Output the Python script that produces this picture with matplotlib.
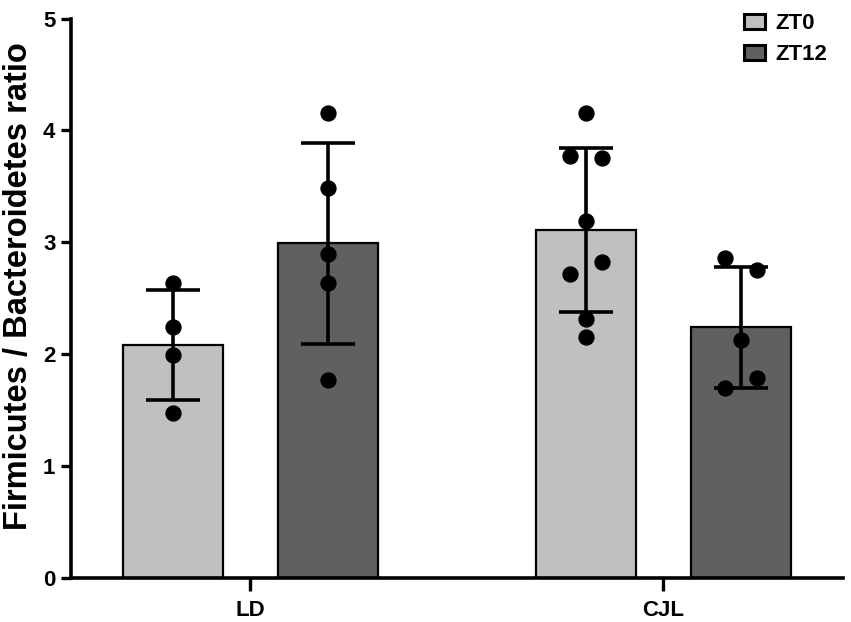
import matplotlib
matplotlib.use("Agg")
import matplotlib.pyplot as plt
import numpy as np
from matplotlib.patches import Patch

plt.rcParams['font.family'] = ['Liberation Sans', 'DejaVu Sans']
plt.rcParams['font.weight'] = 'bold'

groups = ["LD", "CJL"]
series = ["ZT0", "ZT12"]
colors = ["#c0c0c0", "#606060"]

# bar heights (mean) and SD per group, per series
means = {"ZT0": [2.08, 3.11], "ZT12": [2.99, 2.24]}
sds = {"ZT0": [0.49, 0.73], "ZT12": [0.90, 0.54]}

# individual points
points_ld_zt0 = [2.64, 2.24, 1.99, 1.47]
points_ld_zt12 = [4.16, 3.49, 2.90, 2.64, 1.77]
points_cjl_zt0 = [4.16, 3.77, 3.75, 3.19, 2.72, 2.82, 2.31, 2.15]
points_cjl_zt12 = [2.86, 2.75, 2.13, 1.79, 1.70]

# horizontal jitter of points (in bar widths)
jit_ld_zt0 = [0, 0, 0, 0]
jit_ld_zt12 = [0, 0, 0, 0, 0]
jit_cjl_zt0 = [0, -0.16, 0.16, 0, -0.16, 0.16, 0, 0]
jit_cjl_zt12 = [-0.16, 0.16, 0, 0.16, -0.16]

bar_x = {"ZT0": [0.0, 4.13], "ZT12": [1.555, 5.68]}
group_x = [0.777, 4.9]
width = 1.0

fig = plt.figure(figsize=(8.51, 6.22), dpi=100)
ax = fig.add_axes([0.083, 0.071, 0.908, 0.899])

for s, c in zip(series, colors):
    ax.bar(bar_x[s], means[s], width=width, color=c, edgecolor='black',
           linewidth=1.6, zorder=1)
    ax.errorbar(bar_x[s], means[s], yerr=sds[s], fmt='none', ecolor='black',
                elinewidth=2.6, capsize=19.5, capthick=2.6, zorder=3)

all_pts = [(bar_x["ZT0"][0], points_ld_zt0, jit_ld_zt0),
           (bar_x["ZT12"][0], points_ld_zt12, jit_ld_zt12),
           (bar_x["ZT0"][1], points_cjl_zt0, jit_cjl_zt0),
           (bar_x["ZT12"][1], points_cjl_zt12, jit_cjl_zt12)]
for xc, pts, jit in all_pts:
    ax.scatter(xc + np.array(jit), pts, s=115, color='black', zorder=4)

ax.set_xlim(-1.02, 6.70)
ax.set_ylim(0, 5)
ax.set_yticks([0, 1, 2, 3, 4, 5])
ax.set_xticks(group_x)
ax.set_xticklabels(groups)
ax.tick_params(axis='both', labelsize=16, width=2.4, length=7)
ax.tick_params(axis='y', pad=4)
ax.tick_params(axis='x', length=9, pad=7)
for lbl in ax.get_xticklabels() + ax.get_yticklabels():
    lbl.set_fontweight('bold')
ax.set_ylabel("Firmicutes / Bacteroidetes ratio", fontsize=23.5,
              fontweight='bold')
ax.yaxis.set_label_coords(-0.048, 0.522)

for side in ['top', 'right']:
    ax.spines[side].set_visible(False)
for side in ['left', 'bottom']:
    ax.spines[side].set_linewidth(2.6)

handles = [Patch(facecolor=c, edgecolor='black', linewidth=2.2, label=s)
           for s, c in zip(series, colors)]
leg = ax.legend(handles=handles, loc='upper right', bbox_to_anchor=(1.005, 1.045),
                frameon=False, fontsize=16, handlelength=0.95, handleheight=0.7,
                handletextpad=0.45, labelspacing=0.45)
for t in leg.get_texts():
    t.set_fontweight('bold')

fig.savefig("out.png", dpi=100)
